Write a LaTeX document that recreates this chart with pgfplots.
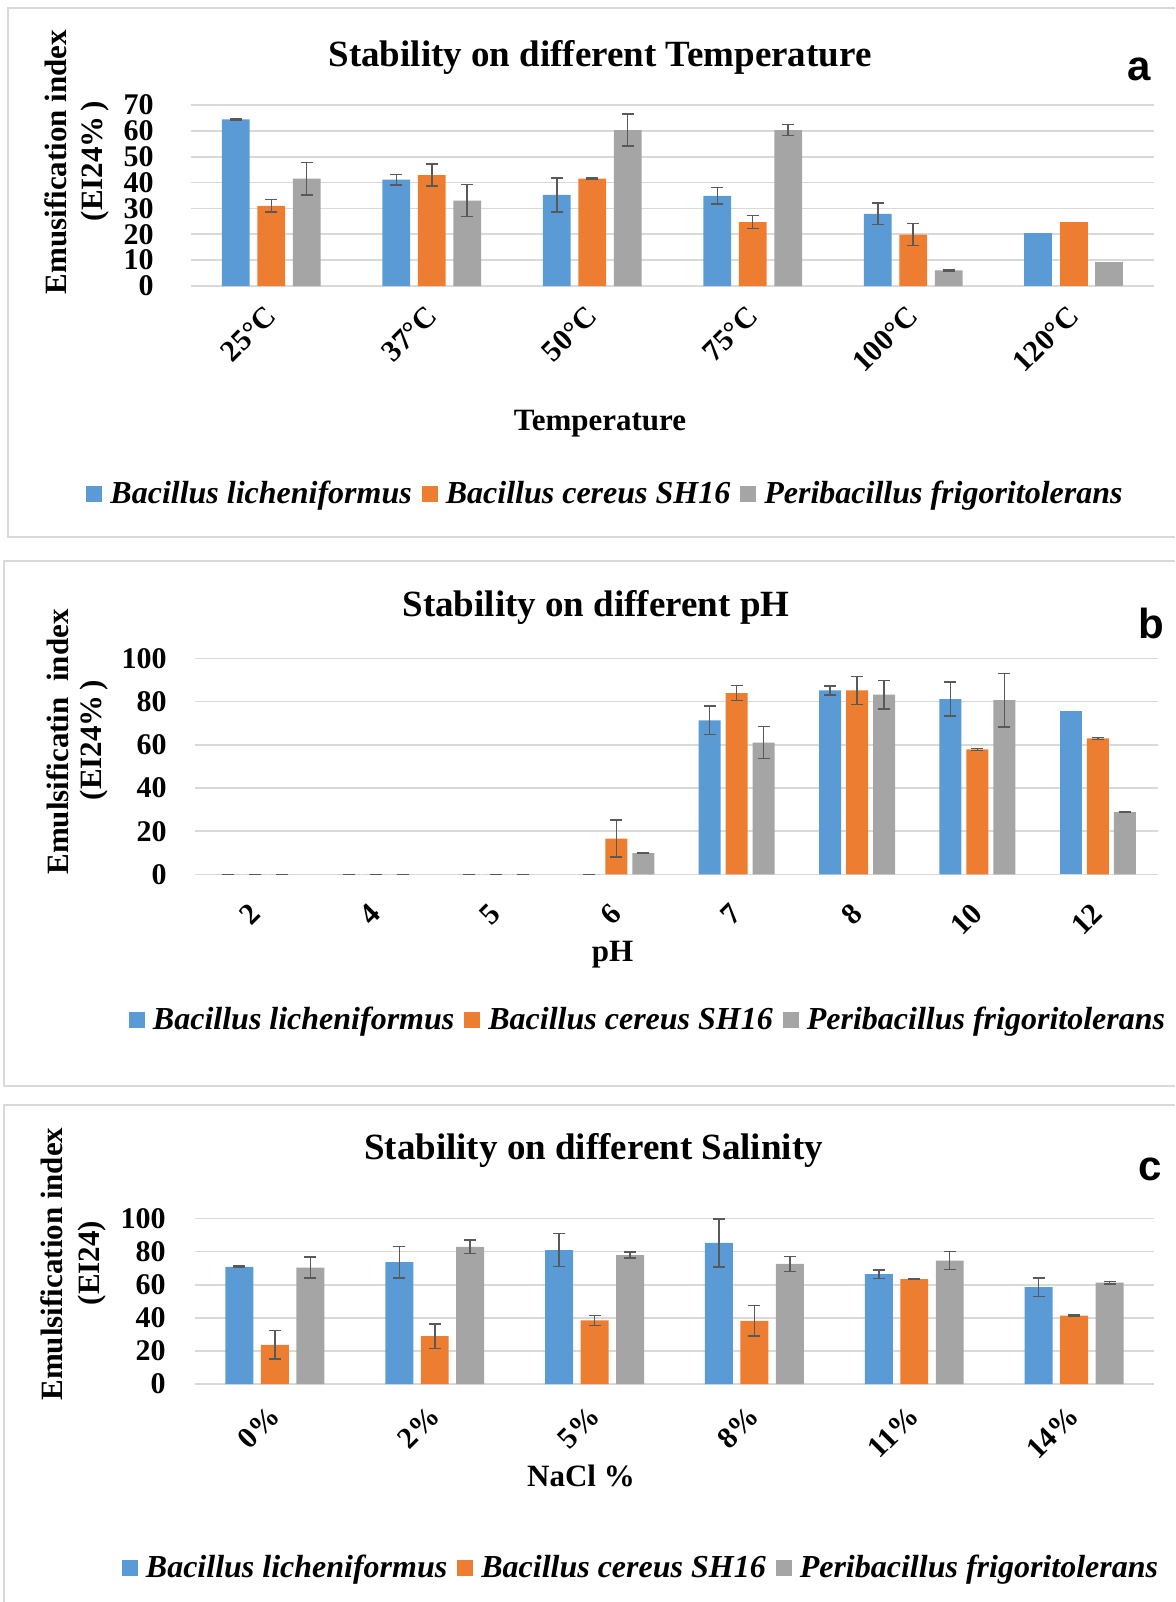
\documentclass[border=0pt]{standalone}
\usepackage{fontspec}
\setmainfont{Liberation Serif}[BoldFont={* Bold}, ItalicFont={* Italic}, BoldItalicFont={* Bold Italic}]
\newfontfamily\lsans{Liberation Sans}
\usepackage{pgfplots}
\usepackage{pgfplotstable}
\pgfplotsset{compat=1.18}

\definecolor{cblue}{HTML}{5B9BD5}
\definecolor{corange}{HTML}{ED7D31}
\definecolor{cgray}{HTML}{A5A5A5}
\definecolor{cgrid}{HTML}{D9D9D9}
\definecolor{cerr}{HTML}{595959}

% EI24 values and error bars (bl = B. licheniformus, bc = B. cereus SH16, pf = P. frigoritolerans)
\pgfplotstableread{
x bl   ble bc   bce pf   pfe
0 64.4 0.2 31.0 2.4 41.5 6.3
1 41.1 2.1 42.9 4.3 33.0 6.2
2 35.2 6.5 41.5 0.3 60.3 6.2
3 34.9 3.2 24.7 2.5 60.3 2.1
4 27.9 4.2 19.9 4.2 6.0  0.2
5 20.6 0   24.7 0   9.4  0
}\tempdata

\pgfplotstableread{
x bl   ble bc   bce pf   pfe
0 0    0   0    0   0    0
1 0    0   0    0   0    0
2 0    0   0    0   0    0
3 0    0   16.6 8.5 9.9  0.3
4 71.3 6.6 84.0 3.4 61.1 7.5
5 85.2 2.1 85.2 6.4 83.3 6.6
6 81.2 7.9 57.9 0.5 80.7 12.4
7 75.6 0   63.0 0.5 28.9 0.3
}\phdata

\pgfplotstableread{
x bl   ble  bc   bce pf   pfe
0 70.8 0.5  23.7 8.5 70.4 6.3
1 73.6 9.6  29.0 7.4 82.9 4.1
2 80.9 9.9  38.4 3.1 77.9 1.8
3 85.3 14.5 38.2 9.3 72.6 4.5
4 66.4 2.5  63.4 0.3 74.6 5.4
5 58.5 5.5  41.4 0.3 61.2 0.7
}\nacldata

\pgfplotsset{
  panel/.style={
    scale only axis, anchor=south west, ybar, ymin=0, clip=false,
    axis line style={draw=none}, major tick length=0pt,
    ymajorgrids, grid style={draw=cgrid, line width=0.8pt},
    /pgf/number format/assume math mode=true,
    yticklabel style={font=\bfseries\fontsize{15}{15}\selectfont, anchor=east, inner sep=0pt},
    xticklabel style={font=\bfseries\fontsize{15}{15}\selectfont, rotate=45, anchor=east, inner sep=0pt},
    legend columns=3,
    legend style={font=\bfseries\itshape\fontsize{16}{19}\selectfont, draw=none, fill=none,
      anchor=center, inner sep=0pt, nodes={inner sep=0pt},
      /tikz/every odd column/.append style={column sep=4pt},
      /tikz/every even column/.append style={column sep=5pt}},
  },
  sblue/.style={fill=cblue, draw=none,
    legend image code/.code={\fill[cblue] (0pt,-4pt) rectangle (8pt,4pt);}},
  sorange/.style={fill=corange, draw=none,
    legend image code/.code={\fill[corange] (0pt,-4pt) rectangle (8pt,4pt);}},
  sgray/.style={fill=cgray, draw=none,
    legend image code/.code={\fill[cgray] (0pt,-4pt) rectangle (8pt,4pt);}},
  errs/.style={error bars/.cd, y dir=both, y explicit, error mark=|,
    error mark options={draw=cerr, line width=0.75pt, mark size=3pt},
    error bar style={draw=cerr, line width=0.75pt}},
}

\begin{document}
\begin{tikzpicture}
% panel frames
\draw[cgrid, line width=1pt] (587.5pt,-4pt) -- (3.75pt,-4pt) -- (3.75pt,-268.5pt) -- (587.5pt,-268.5pt);
\draw[cgrid, line width=1pt] (587.5pt,-280.5pt) -- (2pt,-280.5pt) -- (2pt,-543pt) -- (587.5pt,-543pt);
\draw[cgrid, line width=1pt] (587.5pt,-552.5pt) -- (2pt,-552.5pt) -- (2pt,-801pt);

% ---------- a: temperature ----------
\begin{axis}[panel, at={(95.5pt,-143pt)}, width=481.5pt, height=90.5pt,
  xmin=-0.5, xmax=5.5, ymax=70, ytick={0,10,...,70}, xtick={0,...,5},
  xticklabels={25°C,37°C,50°C,75°C,100°C,120°C},
  bar width=0.174, yticklabel shift=18.5pt, xticklabel shift=12.5pt,
  legend style={at={(0.4294,-1.149)}}]
\addplot[sblue, bar shift=-0.221, restrict x to domain=-0.5:4.5, errs] table[x=x, y=bl, y error=ble] {\tempdata};
\addplot[sorange, bar shift=0, restrict x to domain=-0.5:4.5, errs] table[x=x, y=bc, y error=bce] {\tempdata};
\addplot[sgray, bar shift=0.221, restrict x to domain=-0.5:4.5, errs] table[x=x, y=pf, y error=pfe] {\tempdata};
\addplot[sblue, bar shift=-0.221, restrict x to domain=4.5:5.5, forget plot] table[x=x, y=bl] {\tempdata};
\addplot[sorange, bar shift=0, restrict x to domain=4.5:5.5, forget plot] table[x=x, y=bc] {\tempdata};
\addplot[sgray, bar shift=0.221, restrict x to domain=4.5:5.5, forget plot] table[x=x, y=pf] {\tempdata};
\legend{Bacillus licheniformus, Bacillus cereus SH16, Peribacillus frigoritolerans}
\end{axis}

% ---------- b: pH ----------
\begin{axis}[panel, at={(97.5pt,-437.2pt)}, width=481.5pt, height=107.95pt,
  xmin=-0.5, xmax=7.5, ymax=100, ytick={0,20,...,100}, xtick={0,...,7},
  xticklabels={2,4,5,6,7,8,10,12},
  bar width=0.183, yticklabel shift=14pt, xticklabel shift=17pt,
  legend style={at={(0.4694,-0.674)}}]
\addplot[sblue, bar shift=-0.224, restrict x to domain=-0.5:6.5, errs] table[x=x, y=bl, y error=ble] {\phdata};
\addplot[sorange, bar shift=0, errs] table[x=x, y=bc, y error=bce] {\phdata};
\addplot[sgray, bar shift=0.224, errs] table[x=x, y=pf, y error=pfe] {\phdata};
\addplot[sblue, bar shift=-0.224, restrict x to domain=6.5:7.5, forget plot] table[x=x, y=bl] {\phdata};
\legend{Bacillus licheniformus, Bacillus cereus SH16, Peribacillus frigoritolerans}
\end{axis}

% ---------- c: salinity ----------
\begin{axis}[panel, at={(97.5pt,-692pt)}, width=479.5pt, height=82.75pt,
  xmin=-0.5, xmax=5.5, ymax=100, ytick={0,20,...,100}, xtick={0,...,5},
  xticklabels={0\%,2\%,5\%,8\%,11\%,14\%},
  bar width=0.175, yticklabel shift=14.5pt, xticklabel shift=13.5pt,
  legend style={at={(0.464,-1.112)}}]
\addplot[sblue, bar shift=-0.222, errs] table[x=x, y=bl, y error=ble] {\nacldata};
\addplot[sorange, bar shift=0, errs] table[x=x, y=bc, y error=bce] {\nacldata};
\addplot[sgray, bar shift=0.222, errs] table[x=x, y=pf, y error=pfe] {\nacldata};
\legend{Bacillus licheniformus, Bacillus cereus SH16, Peribacillus frigoritolerans}
\end{axis}

% titles, axis labels, panel letters
\begin{scope}[every node/.style={font=\bfseries\fontsize{18.5}{18.5}\selectfont, inner sep=0pt}]
\node at (300pt,-28.5pt) {Stability on different Temperature};
\node at (298pt,-303.5pt) {Stability on different pH};
\node at (296.75pt,-575pt) {Stability on different Salinity};
\end{scope}
\begin{scope}[every node/.style={font=\bfseries\fontsize{15.5}{15.5}\selectfont, inner sep=0pt}]
\node at (300pt,-211.75pt) {Temperature};
\node at (306.25pt,-477.5pt) {pH};
\node at (290.5pt,-738pt) {NaCl \%};
\node[rotate=90] at (28pt,-81pt) {Emusification index};
\node[rotate=90] at (47.5pt,-80.5pt) {(EI24\%\,)};
\node[rotate=90] at (29pt,-371pt) {Emulsificatin\ \ index};
\node[rotate=90] at (47pt,-370pt) {(EI24\%\,)};
\node[rotate=90] at (26pt,-632pt) {Emulsification index};
\node[rotate=90] at (46pt,-631.5pt) {(EI24)};
\end{scope}
\begin{scope}[every node/.style={font=\lsans\bfseries\fontsize{21}{21}\selectfont, inner sep=0pt}]
\node at (569.5pt,-34.75pt) {a};
\node at (575.5pt,-311.75pt) {b};
\node at (575.25pt,-584.5pt) {c};
\end{scope}

\pgfresetboundingbox
\useasboundingbox (0pt,0pt) rectangle (587.5pt,-801pt);
\end{tikzpicture}
\end{document}
